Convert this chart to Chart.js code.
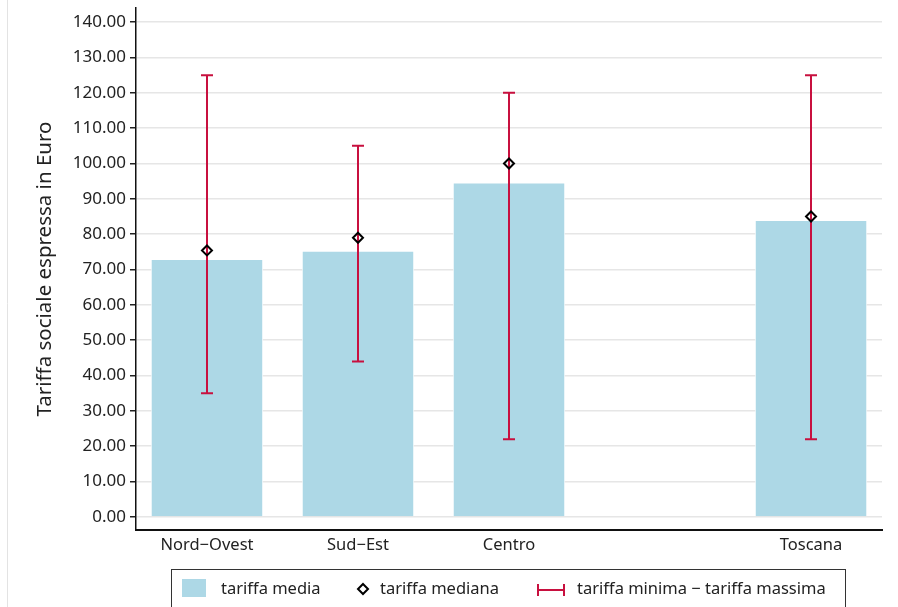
<!DOCTYPE html>
<html>
<head>
<meta charset="utf-8">
<script src="https://cdn.jsdelivr.net/npm/chart.js@4"></script>
<style>
    html, body { margin: 0; padding: 0; background: #fff; }
    #wrap { position: relative; width: 898px; height: 607px; overflow: hidden; }
</style>
</head>
<body>
<div id="wrap"><canvas id="grafico" width="898" height="607"></canvas></div>
<script>
// DATI
const categorie = ["Nord\u2212Ovest", "Sud\u2212Est", "Centro", "", "Toscana"]
const tariffaMedia = [73.0, 75.3, 94.6, null, 84.0]
const tariffaMediana = [75.4, 79.0, 100.0, null, 85.0]
const tariffaMinima = [35, 44, 22, null, 22]
const tariffaMassima = [125, 105, 120, null, 125]
const yTicks = [0, 10, 20, 30, 40, 50, 60, 70, 80, 90, 100, 110, 120, 130, 140]

const labelMedia = "tariffa media"
const labelMediana = "tariffa mediana"
const labelErrore = "tariffa minima \u2212 tariffa massima"

const FONT = "'Noto Sans', sans-serif"
const BLU = "#add8e6"
const ROSSO = "#c8103f"
const TESTO = "#222"

// punti {x: indice categoria, y: valore}
const punti = arr => arr.map((v, i) => ({ x: i, y: v }))


// PLUGIN BARRE DI ERRORE (min - max)
const erroriPlugin = {
    id: "errori",
    afterDatasetDraw(chart, args) {
        if (args.index !== 0) return
        const ctx = chart.ctx
        const x = chart.scales.x
        const y = chart.scales.y
        ctx.save()
        ctx.strokeStyle = ROSSO
        ctx.lineWidth = 2
        tariffaMinima.forEach((min, i) => {
            if (min === null) return
            const px = Math.round(x.getPixelForValue(i))
            const yMin = y.getPixelForValue(min)
            const yMax = y.getPixelForValue(tariffaMassima[i])
            ctx.beginPath()
            ctx.moveTo(px, yMin)
            ctx.lineTo(px, yMax)
            ctx.moveTo(px - 6, yMin)
            ctx.lineTo(px + 6, yMin)
            ctx.moveTo(px - 6, yMax)
            ctx.lineTo(px + 6, yMax)
            ctx.stroke()
        })
        ctx.restore()
    }
}


// PLUGIN LEGENDA CON BORDO
const legendaPlugin = {
    id: "legenda",
    beforeDraw(chart) {
        const ctx = chart.ctx
        ctx.save()
        ctx.strokeStyle = "#e3e3e3"
        ctx.lineWidth = 1
        ctx.beginPath()
        ctx.moveTo(7.5, 0)
        ctx.lineTo(7.5, chart.height)
        ctx.stroke()
        ctx.restore()
    },
    afterDraw(chart) {
        const ctx = chart.ctx
        const yc = 589
        ctx.save()

        // bordo
        ctx.strokeStyle = "#333"
        ctx.lineWidth = 1
        ctx.strokeRect(171.5, 569.5, 674, 60)

        ctx.font = "16.5px " + FONT
        ctx.fillStyle = TESTO
        ctx.textBaseline = "middle"

        // tariffa media
        ctx.fillStyle = BLU
        ctx.fillRect(182, 579, 24, 18)
        ctx.fillStyle = TESTO
        ctx.fillText(chart.data.datasets[0].label, 221, yc)

        // tariffa mediana
        ctx.strokeStyle = "#000"
        ctx.lineWidth = 2
        ctx.beginPath()
        ctx.moveTo(363, yc - 5)
        ctx.lineTo(368, yc)
        ctx.lineTo(363, yc + 5)
        ctx.lineTo(358, yc)
        ctx.closePath()
        ctx.stroke()
        ctx.fillText(chart.data.datasets[1].label, 380, yc)

        // min - max
        ctx.strokeStyle = ROSSO
        ctx.beginPath()
        ctx.moveTo(537, yc + 1)
        ctx.lineTo(565, yc + 1)
        ctx.moveTo(538, yc - 5)
        ctx.lineTo(538, yc + 7)
        ctx.moveTo(564, yc - 5)
        ctx.lineTo(564, yc + 7)
        ctx.stroke()
        ctx.fillText(labelErrore, 577, yc)

        ctx.restore()
    }
}


new Chart(document.getElementById("grafico"), {
    type: "bar",
    data: {
        datasets: [
            {
                label: labelMedia,
                data: punti(tariffaMedia),
                backgroundColor: BLU,
                borderColor: "#fff",
                borderWidth: 1,
                barPercentage: 0.745,
                categoryPercentage: 1,
                order: 2
            },
            {
                type: "line",
                label: labelMediana,
                data: punti(tariffaMediana),
                showLine: false,
                pointStyle: "rectRot",
                pointRadius: 5,
                pointBorderWidth: 2,
                pointBorderColor: "#000",
                pointBackgroundColor: "rgba(0,0,0,0)",
                order: 1
            }
        ]
    },
    options: {
        responsive: false,
        animation: false,
        events: [],
        layout: {
            padding: { top: 8, right: 16, left: 0, bottom: 0 }
        },
        plugins: {
            legend: { display: false },
            tooltip: { enabled: false }
        },
        scales: {
            x: {
                type: "linear",
                min: -0.47,
                max: 4.47,
                offset: false,
                afterBuildTicks(scale) {
                    scale.ticks = categorie.map((c, i) => ({ value: i }))
                },
                grid: { display: false, drawTicks: false },
                border: { display: true, color: "#111", width: 2 },
                ticks: {
                    color: TESTO,
                    padding: 5,
                    maxRotation: 0,
                    autoSkip: false,
                    font: { family: FONT, size: 16.5 },
                    callback: v => categorie[v]
                },
                afterFit(scale) {
                    scale.height = 77
                    scale.paddingLeft = 0
                    scale.paddingRight = 0
                }
            },
            y: {
                min: -3.7,
                max: 144,
                afterBuildTicks(scale) {
                    scale.ticks = yTicks.map(v => ({ value: v }))
                },
                afterFit(scale) {
                    scale.width = 136
                    scale.paddingTop = 0
                    scale.paddingBottom = 0
                },
                grid: {
                    color: "#e6e6e6",
                    lineWidth: 1.5,
                    tickColor: "#222",
                    tickLength: 6,
                    tickWidth: 1.5
                },
                border: { display: true, color: "#111", width: 1.5 },
                ticks: {
                    color: TESTO,
                    padding: 4,
                    font: { family: FONT, size: 17 },
                    callback: v => v.toFixed(2)
                },
                title: {
                    display: true,
                    text: "Tariffa sociale espressa in Euro",
                    color: TESTO,
                    padding: { top: 33, bottom: 0 },
                    font: { family: FONT, size: 20.5 }
                }
            }
        }
    },
    plugins: [erroriPlugin, legendaPlugin]
})
</script>
</body>
</html>
